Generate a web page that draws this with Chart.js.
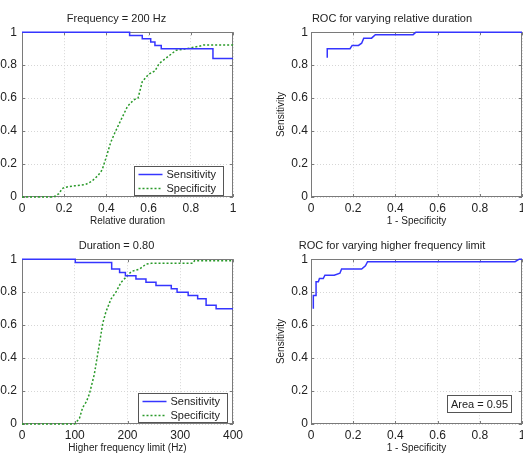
<!DOCTYPE html>
<html>
<head>
<meta charset="utf-8">
<script src="https://cdn.jsdelivr.net/npm/chart.js@4"></script>
<style>
  html, body { margin: 0; padding: 0; background: #fff; }
  #wrap { position: relative; width: 523px; height: 454px; overflow: hidden; }
  .cell { position: absolute; width: 261px; height: 227px; }
  .cell canvas { display: block; }
</style>
</head>
<body>
<div id="wrap">
  <div class="cell" style="left:0;top:0;width:262px"><canvas id="c1" width="262" height="227"></canvas></div>
  <div class="cell" style="left:262px;top:0"><canvas id="c2" width="261" height="227"></canvas></div>
  <div class="cell" style="left:0;top:227px;width:262px"><canvas id="c3" width="262" height="227"></canvas></div>
  <div class="cell" style="left:262px;top:227px"><canvas id="c4" width="261" height="227"></canvas></div>
</div>
<script>
// ----- Data -----
// Panel 1: frequency fixed at 200 Hz, varying relative duration
const durSensX = [0, 0.51, 0.57, 0.61, 0.63, 0.66, 0.905, 1];
const durSensY = [1, 0.98, 0.96, 0.94, 0.92, 0.90, 0.84, 0.84];
const durSpecX = [0, 0.15, 0.175, 0.19, 0.2, 0.25, 0.3, 0.33, 0.36, 0.38, 0.4, 0.42, 0.44, 0.47, 0.5, 0.53, 0.55, 0.57, 0.6, 0.63, 0.65, 0.68, 0.7, 0.73, 0.76, 0.8, 0.84, 0.86, 1];
const durSpecY = [0, 0, 0.02, 0.05, 0.058, 0.068, 0.075, 0.095, 0.13, 0.165, 0.245, 0.33, 0.39, 0.47, 0.55, 0.59, 0.6, 0.70, 0.745, 0.765, 0.81, 0.84, 0.86, 0.89, 0.895, 0.905, 0.915, 0.922, 0.922];

// Panel 2: ROC for varying relative duration (x = 1 - specificity)
const rocDurX = [0.077, 0.077, 0.185, 0.195, 0.225, 0.24, 0.25, 0.287, 0.305, 0.484, 0.497, 1];
const rocDurY = [0.845, 0.90, 0.90, 0.92, 0.92, 0.933, 0.964, 0.964, 0.985, 0.985, 1, 1];

// Panel 3: duration fixed at 0.80, varying higher frequency limit
const hfSensX = [0, 101, 170, 185, 196, 216, 235, 254, 283, 294, 315, 333, 349, 368, 400];
const hfSensY = [1, 0.98, 0.94, 0.92, 0.90, 0.88, 0.86, 0.84, 0.82, 0.80, 0.78, 0.76, 0.72, 0.70, 0.70];
const hfSpecX = [0, 100, 109, 115, 122, 128, 137, 147, 153, 159, 169, 178, 188, 197, 207, 223, 235, 245, 324, 327, 400];
const hfSpecY = [0, 0, 0.035, 0.10, 0.135, 0.185, 0.30, 0.49, 0.61, 0.68, 0.76, 0.80, 0.86, 0.89, 0.925, 0.94, 0.97, 0.975, 0.975, 0.99, 0.99];

// Panel 4: ROC for varying higher frequency limit
const rocHfX = [0.011, 0.011, 0.024, 0.024, 0.035, 0.04, 0.058, 0.066, 0.11, 0.137, 0.145, 0.24, 0.258, 0.268, 0.967, 0.987, 1];
const rocHfY = [0.70, 0.78, 0.78, 0.863, 0.863, 0.883, 0.883, 0.903, 0.903, 0.915, 0.94, 0.94, 0.96, 0.985, 0.985, 1, 1];
const rocHfArea = 0.95;

const unitTicks = [0, 0.2, 0.4, 0.6, 0.8, 1];
const hfTicks = [0, 100, 200, 300, 400];

// ----- Styles -----
const BLUE = "#3535ff";
const GREEN = "#2a9a2a";
const FONT = "'Liberation Sans', Arial, Helvetica, sans-serif";

Chart.defaults.font.family = FONT;
Chart.defaults.color = "#222";

function pts(xs, ys) {
  return xs.map((x, i) => ({ x: x, y: ys[i] }));
}

// frame + inward ticks under the data, legend / area boxes on top
const framePlugin = {
  id: "frame",
  beforeDatasetsDraw(chart) {
    const { ctx, chartArea: a, scales } = chart;
    ctx.save();
    ctx.strokeStyle = "#7a7a7a";
    ctx.lineWidth = 1;
    ctx.strokeRect(Math.round(a.left) + 0.5, Math.round(a.top) + 0.5, Math.round(a.right - a.left) - 1, Math.round(a.bottom - a.top) - 1);
    // small inward tick marks, MATLAB style
    ctx.beginPath();
    scales.x.ticks.forEach((t) => {
      const px = Math.round(scales.x.getPixelForValue(t.value)) + 0.5;
      ctx.moveTo(px, a.bottom); ctx.lineTo(px, a.bottom - 3);
      ctx.moveTo(px, a.top); ctx.lineTo(px, a.top + 3);
    });
    scales.y.ticks.forEach((t) => {
      const py = Math.round(scales.y.getPixelForValue(t.value)) + 0.5;
      ctx.moveTo(a.left, py); ctx.lineTo(a.left + 3, py);
      ctx.moveTo(a.right, py); ctx.lineTo(a.right - 3, py);
    });
    ctx.stroke();
    ctx.restore();
  },
  afterDatasetsDraw(chart, args, opts) {
    const { ctx, chartArea: a } = chart;
    ctx.save();
    if (opts.legend) {
      const w = 89, h = 29;
      const x0 = Math.round(a.right - opts.legend.right - w) + 0.5;
      const y0 = Math.round(a.bottom - 2 - h) + 0.5;
      ctx.fillStyle = "#fff";
      ctx.fillRect(x0, y0, w, h);
      ctx.strokeStyle = "#555";
      ctx.lineWidth = 1;
      ctx.strokeRect(x0, y0, w, h);
      ctx.font = "11px " + FONT;
      ctx.textBaseline = "middle";
      const rows = [
        { label: "Sensitivity", color: BLUE, dash: [] },
        { label: "Specificity", color: GREEN, dash: [2, 2] },
      ];
      rows.forEach((r, i) => {
        const yy = y0 + 8 + i * 14;
        ctx.strokeStyle = r.color;
        ctx.lineWidth = 1.5;
        ctx.setLineDash(r.dash);
        ctx.beginPath();
        ctx.moveTo(x0 + 4, yy); ctx.lineTo(x0 + 28, yy);
        ctx.stroke();
        ctx.setLineDash([]);
        ctx.fillStyle = "#222";
        ctx.fillText(r.label, x0 + 32, yy);
      });
    }

    if (opts.areaText) {
      const w = 64, h = 17;
      const x0 = Math.round(a.right - 11 - w) + 0.5;
      const y0 = Math.round(a.bottom - 12 - h) + 0.5;
      ctx.fillStyle = "#fff";
      ctx.fillRect(x0, y0, w, h);
      ctx.strokeStyle = "#555";
      ctx.lineWidth = 1;
      ctx.strokeRect(x0, y0, w, h);
      ctx.font = "11px " + FONT;
      ctx.textAlign = "center";
      ctx.textBaseline = "middle";
      ctx.fillStyle = "#222";
      ctx.fillText(opts.areaText, x0 + w / 2, y0 + h / 2 + 0.5);
    }
    ctx.restore();
  },
};

function fixedBox(size, vertical) {
  return function (scale) {
    if (vertical) scale.width = size; else scale.height = size;
    scale.paddingLeft = 0; scale.paddingRight = 0;
    scale.paddingTop = 0; scale.paddingBottom = 0;
  };
}

const fmt = (v) => String(v);

function makePanel(id, cfg) {
  const ctx = document.getElementById(id).getContext("2d");
  const grid = { color: "#d6d6d6", drawTicks: false };
  return new Chart(ctx, {
    type: "line",
    data: { datasets: cfg.datasets },
    plugins: [framePlugin],
    options: {
      responsive: false,
      animation: false,
      layout: { padding: { left: 0, right: cfg.rightPad, top: 0, bottom: 0 } },
      elements: { point: { radius: 0 }, line: { borderWidth: 1.5, tension: 0 } },
      plugins: {
        legend: { display: false },
        tooltip: { enabled: false },
        title: {
          display: true,
          text: cfg.title,
          color: "#222",
          font: { size: 11, weight: "normal" },
          padding: { top: 12, bottom: 7 },
        },
        frame: { legend: cfg.legend, areaText: cfg.areaText },
      },
      scales: {
        x: {
          type: "linear",
          min: cfg.xMin, max: cfg.xMax,
          afterBuildTicks: (s) => { s.ticks = cfg.xTicks.map((v) => ({ value: v })); },
          afterFit: fixedBox(30, false),
          grid: grid,
          border: { display: false, dash: [1, 2] },
          ticks: { padding: 4, font: { size: 12 }, color: "#222", maxRotation: 0, autoSkip: false, callback: fmt },
          title: { display: true, text: cfg.xTitle, color: "#222", font: { size: 10 }, padding: 0 },
        },
        y: {
          type: "linear",
          min: 0, max: 1,
          afterBuildTicks: (s) => { s.ticks = unitTicks.map((v) => ({ value: v })); },
          afterFit: fixedBox(cfg.yWidth, true),
          grid: grid,
          border: { display: false, dash: [1, 2] },
          ticks: { padding: cfg.yPad, font: { size: 12 }, color: "#222", autoSkip: false, callback: fmt },
          title: { display: !!cfg.yTitle, text: cfg.yTitle || "", color: "#222", font: { size: 10 }, padding: { top: 13 } },
        },
      },
    },
  });
}

function sensSet(xs, ys) {
  return { data: pts(xs, ys), borderColor: BLUE, stepped: true, fill: false, clip: 4 };
}
function specSet(xs, ys) {
  return { data: pts(xs, ys), borderColor: GREEN, borderDash: [2, 2], fill: false, clip: 4 };
}
function rocSet(xs, ys) {
  return { data: pts(xs, ys), borderColor: BLUE, fill: false, clip: 4 };
}

makePanel("c1", {
  title: "Frequency = 200 Hz",
  xTitle: "Relative duration",
  xMin: 0, xMax: 1, xTicks: unitTicks,
  yWidth: 22, yPad: 5, rightPad: 29,
  datasets: [sensSet(durSensX, durSensY), specSet(durSpecX, durSpecY)],
  legend: { right: 10 },
});

makePanel("c2", {
  title: "ROC for varying relative duration",
  xTitle: "1 - Specificity",
  yTitle: "Sensitivity",
  xMin: 0, xMax: 1, xTicks: unitTicks,
  yWidth: 49, yPad: 3, rightPad: 1,
  datasets: [rocSet(rocDurX, rocDurY)],
});

makePanel("c3", {
  title: "Duration = 0.80",
  xTitle: "Higher frequency limit (Hz)",
  xMin: 0, xMax: 400, xTicks: hfTicks,
  yWidth: 22, yPad: 5, rightPad: 29,
  datasets: [sensSet(hfSensX, hfSensY), specSet(hfSpecX, hfSpecY)],
  legend: { right: 6 },
});

makePanel("c4", {
  title: "ROC for varying higher frequency limit",
  xTitle: "1 - Specificity",
  yTitle: "Sensitivity",
  xMin: 0, xMax: 1, xTicks: unitTicks,
  yWidth: 49, yPad: 3, rightPad: 1,
  datasets: [rocSet(rocHfX, rocHfY)],
  areaText: "Area = " + rocHfArea.toFixed(2),
});
</script>
</body>
</html>
